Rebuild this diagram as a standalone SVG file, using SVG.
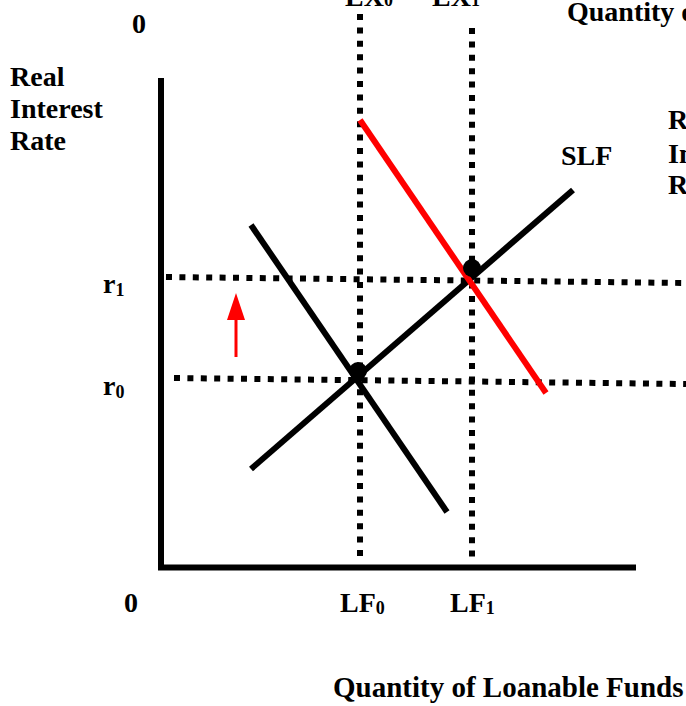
<svg xmlns="http://www.w3.org/2000/svg" width="686" height="706" viewBox="0 0 686 706">
<style>
text{font-family:"Liberation Serif","Times New Roman",serif;font-weight:bold;fill:#000}
.lbl{font-size:28px}
.big{font-size:28px}
.sub{font-size:18px}
.dot{stroke:#000;stroke-width:6;stroke-dasharray:6 7.4;fill:none}
.ln{stroke:#000;stroke-width:6;fill:none}
</style>
<defs>
<marker id="ah" markerWidth="9" markerHeight="6" refX="0" refY="3" orient="auto" markerUnits="strokeWidth">
<path d="M0,0 L9,3 L0,6 Z" fill="#ff0000"/>
</marker>
</defs>
<rect width="686" height="706" fill="#fff"/>
<g id="axes">
<line class="ln" x1="161" y1="78" x2="161" y2="570"/>
<line class="ln" x1="158" y1="567.5" x2="636" y2="567.5"/>
</g>
<g id="connectors">
<line class="dot" x1="360" y1="14" x2="360" y2="562"/>
<line class="dot" x1="472" y1="28" x2="472" y2="562"/>
<line class="dot" x1="166" y1="277" x2="686" y2="283"/>
<line class="dot" x1="174" y1="378" x2="686" y2="384"/>
<line id="demand" class="ln" x1="251" y1="225" x2="447" y2="512"/>
<line id="slf-line" class="ln" x1="251" y1="469" x2="573" y2="190"/>
<line id="demand-shift" stroke="#ff0000" stroke-width="6" x1="360" y1="120" x2="546" y2="393"/>
<line id="arrow" stroke="#ff0000" stroke-width="3" x1="236" y1="357" x2="236" y2="320" marker-end="url(#ah)"/>
</g>
<g id="points">
<circle cx="358" cy="371" r="9" fill="#000"/>
<circle cx="472" cy="268" r="9" fill="#000"/>
</g>
<g id="labels">
<text class="big" x="132" y="33">0</text>
<text class="lbl" x="10" y="86">Real</text>
<text class="lbl" x="10" y="118">Interest</text>
<text class="lbl" x="10" y="150">Rate</text>
<text class="big" x="345" y="6">EX<tspan class="sub">0</tspan></text>
<text class="big" x="432" y="6">EX<tspan class="sub">1</tspan></text>
<text class="lbl" x="567" y="21">Quantity of</text>
<text class="big" x="561" y="165">SLF</text>
<text class="big" x="668" y="129">R</text>
<text class="big" x="668" y="163">In</text>
<text class="big" x="668" y="194">R</text>
<text class="big" x="103" y="293">r<tspan class="sub" dy="3">1</tspan></text>
<text class="big" x="103" y="395">r<tspan class="sub" dy="3">0</tspan></text>
<text class="big" x="124" y="612">0</text>
<text class="big" x="340" y="612">LF<tspan class="sub" dy="2">0</tspan></text>
<text class="big" x="450" y="612">LF<tspan class="sub" dy="2">1</tspan></text>
<text class="lbl" x="333" y="697" style="font-size:29px">Quantity of Loanable Funds</text>
</g>
</svg>
